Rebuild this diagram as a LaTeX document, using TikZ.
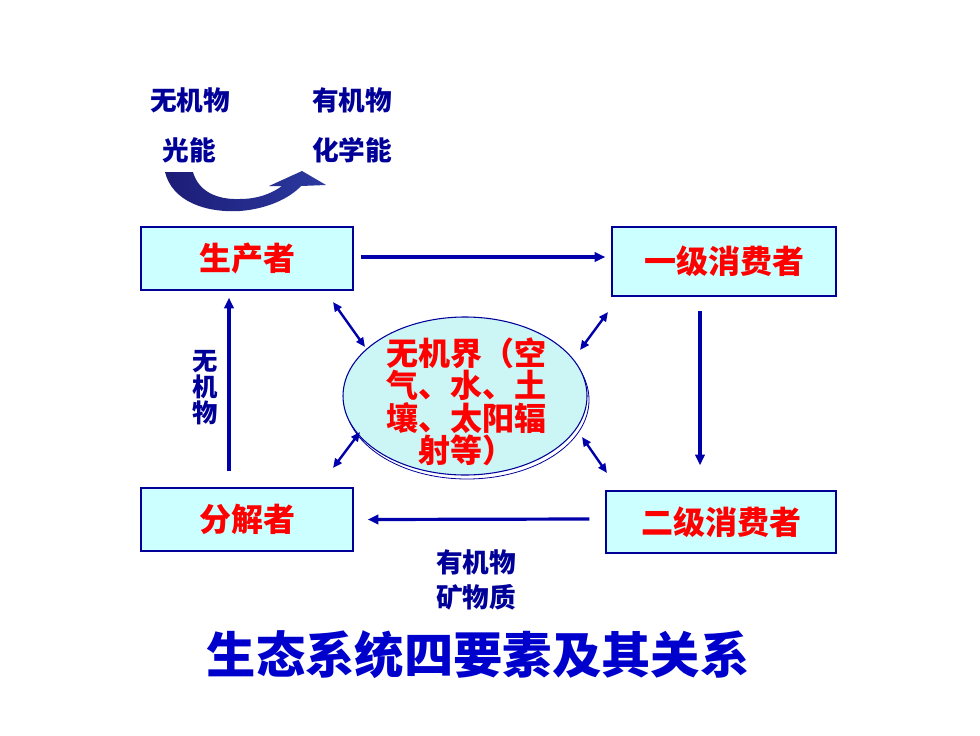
\documentclass[tikz,border=0pt]{standalone}
\usepackage{fontspec}
\setmainfont{Noto Sans CJK SC}
\usetikzlibrary{calc,arrows.meta,shapes.geometric}
\definecolor{boxfill}{HTML}{CCFFFF}
\definecolor{ringfill}{HTML}{CCF5F5}
\definecolor{edge}{HTML}{000099}
\definecolor{flowblue}{HTML}{0000AA}
\definecolor{labelblue}{HTML}{000099}
\definecolor{titleblue}{HTML}{0000CC}
\definecolor{namered}{HTML}{FF0000}
\definecolor{bendnavy}{HTML}{1C1C76}
\definecolor{bendblue}{HTML}{2C3AA0}
\tikzset{
	member/.style={draw=edge,line width=1pt,fill=boxfill,text=namered,font=\bfseries\fontsize{24}{24}\selectfont},
	flow/.style={draw=flowblue,line width=2.4pt,-{Triangle[length=8pt,width=7pt]}},
	swap/.style={draw=flowblue,line width=1.8pt,{Triangle[length=7pt,width=6pt]}-{Triangle[length=7pt,width=6pt]}},
	tag/.style={text=labelblue,font=\bfseries\fontsize{20}{20}\selectfont},
}
\newcommand{\organism}[5]{
	\node (#1) at (#2) [member,minimum width=#3,minimum height=#4] {#5};
}

\begin{document}
\begin{tikzpicture}[x=0.75pt,y=-0.75pt]
		\useasboundingbox (0,0) rectangle (980,735);
		\organism{prod}{247,258.5}{159pt}{47.25pt}{生产者}
		\organism{cons1}{724,261.5}{168pt}{51.75pt}{一级消费者}
		\organism{decomp}{247,519.5}{159pt}{47.25pt}{分解者}
		\organism{cons2}{721,522}{172.5pt}{46.5pt}{二级消费者}
		\draw[edge,line width=0.6pt] (467,400) ellipse (91.5pt and 59.25pt);
		\node (world) at (465,396) [ellipse,draw=edge,line width=0.8pt,fill=ringfill,minimum width=183pt,minimum height=118.5pt] {};
		\node (worldtext) at (466,402) [align=center,text=namered,font=\bfseries\fontsize{24}{21}\selectfont] {无机界（空\\气、水、土\\壤、太阳辐\\射等）};
		\node (in1) at (190,100) [tag] {无机物};
		\node (in2) at (189,150) [tag] {光能};
		\node (out1) at (352,100) [tag] {有机物};
		\node (out2) at (352,150) [tag] {化学能};
		\node (side) at (205,388) [tag,align=center,font=\bfseries\fontsize{19}{19.5}\selectfont] {无\\机\\物};
		\node (low1) at (476,562) [tag] {有机物};
		\node (low2) at (476,597) [tag] {矿物质};
		\node (title) at (478,655) [text=titleblue,font=\bfseries\fontsize{37}{37}\selectfont] {生态系统四要素及其关系};
		\shade[left color=bendnavy,right color=bendblue] (165,172) .. controls (172,201) and (205,213) .. (240,211) .. controls (266,209) and (289,199) .. (301,186) -- (326,185) -- (302,171) -- (269,186) -- (282,186) .. controls (271,194) and (257,199) .. (240,199) .. controls (215,200) and (198,190) .. (193,172) -- cycle;
		\draw[flow] ($(prod.east)+(7,-1.5)$) -- ($(cons1.west)+(-6,-4.5)$);
		\draw[flow] ($(cons1.south)+(-24,14)$) -- ($(cons2.north)+(-21,-25)$);
		\draw[flow] ($(cons2.west)+(-16,-3)$) -- ($(decomp.east)+(14,0)$);
		\draw[flow] ($(decomp.north)+(-18,-16)$) -- ($(prod.south)+(-18,7)$);
		\coordinate (tl1) at (333,302);
		\coordinate (tl2) at (365,347);
		\coordinate (tr1) at (608,312);
		\coordinate (tr2) at (580,350);
		\coordinate (bl1) at (360,432);
		\coordinate (bl2) at (333,468);
		\coordinate (br1) at (582,437);
		\coordinate (br2) at (607,473);
		\draw[swap] (tl1) -- (tl2);
		\draw[swap] (tr1) -- (tr2);
		\draw[swap] (bl1) -- (bl2);
		\draw[swap] (br1) -- (br2);
	\end{tikzpicture}
\end{document}
